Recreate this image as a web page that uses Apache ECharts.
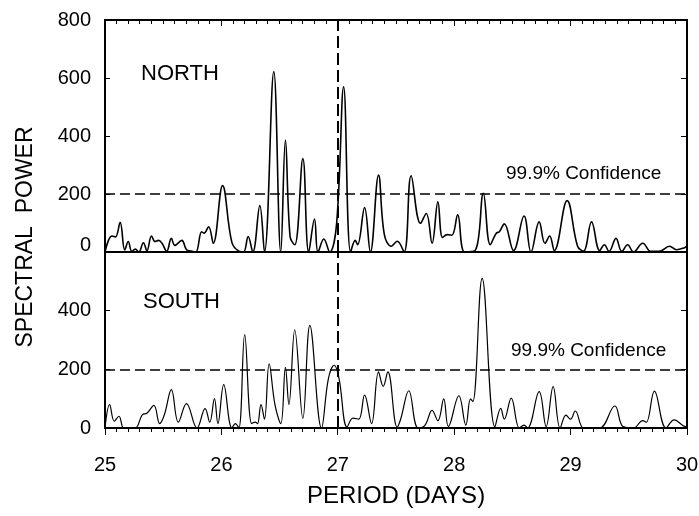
<!DOCTYPE html>
<html><head><meta charset="utf-8">
<script src="https://cdn.jsdelivr.net/npm/echarts@6/dist/echarts.min.js"></script>
<style>html,body{margin:0;padding:0;background:#fff}#c{width:699px;height:516px}</style>
</head><body><div id="c"></div>
<script>
// ---- data ----
const northPeriod = [25.00,25.06,25.09,25.13,25.17,25.20,25.23,25.26,25.29,25.33,25.36,25.40,25.43,25.46,25.49,25.53,25.57,25.60,25.66,25.70,25.74,25.78,25.83,25.85,25.89,25.93,26.01,26.09,26.15,26.19,26.23,26.27,26.33,26.37,26.45,26.51,26.55,26.59,26.63,26.70,26.75,26.80,26.83,26.88,26.93,26.99,27.05,27.11,27.15,27.17,27.23,27.28,27.35,27.40,27.46,27.51,27.57,27.63,27.71,27.76,27.81,27.86,27.90,27.94,27.98,28.03,28.09,28.18,28.25,28.31,28.36,28.39,28.43,28.51,28.60,28.66,28.73,28.78,28.82,28.86,28.97,29.06,29.11,29.18,29.25,29.29,29.33,29.39,29.44,29.49,29.54,29.62,29.69,29.76,29.85,29.91,29.98,30.00];
const northPower  = [0,55,52,102,7,36,2,10,0,32,5,55,36,40,30,2,47,23,40,8,3,0,70,65,87,30,229,33,3,0,53,0,160,0,622,0,386,53,25,322,0,114,0,45,0,99,570,0,40,25,153,0,265,60,20,37,0,263,99,133,30,173,50,60,58,128,0,5,202,25,64,71,97,5,124,0,104,30,55,5,177,20,3,104,5,25,2,47,2,25,0,30,2,2,20,8,15,20];
const southPeriod = [25.00,25.04,25.08,25.12,25.16,25.20,25.26,25.32,25.36,25.42,25.47,25.51,25.57,25.63,25.70,25.79,25.86,25.90,25.94,25.97,26.02,26.09,26.12,26.15,26.20,26.26,26.29,26.31,26.34,26.37,26.41,26.46,26.51,26.55,26.58,26.63,26.70,26.76,26.86,26.92,26.97,27.01,27.08,27.13,27.18,27.23,27.29,27.35,27.39,27.43,27.51,27.54,27.61,27.69,27.75,27.81,27.86,27.91,27.95,28.04,28.10,28.14,28.16,28.24,28.35,28.40,28.43,28.49,28.56,28.60,28.63,28.73,28.79,28.85,28.91,28.96,29.00,29.04,29.11,29.16,29.25,29.38,29.45,29.54,29.62,29.65,29.72,29.82,29.89,29.99,30.00];
const southPower  = [0,80,23,40,0,0,0,45,50,77,15,45,131,20,83,0,66,20,100,15,148,0,15,0,318,15,20,15,80,30,219,80,15,207,80,335,33,350,0,170,214,170,3,34,30,112,15,191,142,191,3,30,127,0,10,60,25,99,5,110,10,99,90,510,4,67,30,102,0,10,0,124,5,141,0,44,30,58,0,0,0,75,5,0,25,20,126,0,28,5,5];
const topTicks = [0,200,400,600,800];
const bottomTicks = [0,200,400,600];
const xTicks = [25,26,27,28,29,30];
const minorPerMajor = 10;
const confidenceLevel = 200;
const markerPeriod = 27;
const panelNames = ['NORTH','SOUTH'];
const confidenceText = '99.9% Confidence';
const xTitle = 'PERIOD (DAYS)';
const yTitle = 'SPECTRAL  POWER';

// ---- chart ----
const FF = '"Liberation Sans", Arial, sans-serif';
const chart = echarts.init(document.getElementById('c'));
const pairs = (xs, ys) => xs.map((x,i)=>[x, ys[i]]);
const black = '#000';
const xMin = xTicks[0], xMax = xTicks[xTicks.length-1];
const axLine = () => ({show:true, onZero:false, lineStyle:{color:black, width:2}});
const baseX = () => ({type:'value', min:xMin, max:xMax, interval:1, splitLine:{show:false}, axisTick:{show:false}, minorTick:{show:false}});
const yRange = (ticks) => ({min:ticks[0], max:ticks[ticks.length-1], interval:ticks[1]-ticks[0]});
const markLines = () => ({
  silent:true, symbol:'none', label:{show:false},
  data:[
    {yAxis:confidenceLevel, lineStyle:{color:black, width:1.5, type:[10,5]}},
    {xAxis:markerPeriod, lineStyle:{color:black, width:2, type:[12,5]}}
  ]
});

// tick values: majors from xTicks, minors subdividing each interval
const periodTicks = [];
for (let i = 0; i < xTicks.length; i++) {
  periodTicks.push([xTicks[i], 1]);
  if (i < xTicks.length - 1) {
    const step = (xTicks[i+1] - xTicks[i]) / minorPerMajor;
    for (let k = 1; k < minorPerMajor; k++) periodTicks.push([+(xTicks[i] + k*step).toFixed(3), 0]);
  }
}
const crisp = v => Math.round(v - 0.5) + 0.5;
const tickStyle = {stroke:black, lineWidth:1, fill:null};

// ticks drawn through the axes' own scales (custom series + api.coord)
const topEdgeTicks = {
  type:'custom', xAxisIndex:0, yAxisIndex:0, clip:false, silent:true, z:20, animation:false,
  data: periodTicks.map(t => [t[0], topTicks[topTicks.length-1], t[1]]),
  encode:{x:0, y:1},
  renderItem:(params, api) => {
    const p = api.coord([api.value(0), api.value(1)]);
    const x = crisp(p[0]);
    return {type:'line', shape:{x1:x, y1:p[1], x2:x, y2:p[1] + (api.value(2) ? 6 : 4)}, style:tickStyle};
  }
};
const bottomEdgeTicks = {
  type:'custom', xAxisIndex:2, yAxisIndex:2, clip:false, silent:true, z:20, animation:false,
  data: periodTicks.map(t => [t[0], bottomTicks[0], t[1]]),
  encode:{x:0, y:1},
  renderItem:(params, api) => {
    const p = api.coord([api.value(0), api.value(1)]);
    const x = crisp(p[0]);
    return {type:'line', shape:{x1:x, y1:p[1], x2:x, y2:p[1] + (api.value(2) ? 7 : 4)}, style:tickStyle};
  }
};
const sideTicks = (xi, yi, ticks) => ({
  type:'custom', xAxisIndex:xi, yAxisIndex:yi, clip:false, silent:true, z:20, animation:false,
  data: ticks.slice(1, -1).map(v => [xMin, v]),
  encode:{x:0, y:1},
  renderItem:(params, api) => {
    const pl = api.coord([xMin, api.value(1)]);
    const pr = api.coord([xMax, api.value(1)]);
    const y = crisp(pl[1]);
    return {type:'group', children:[
      {type:'line', shape:{x1:pl[0], y1:y, x2:pl[0] + 5, y2:y}, style:tickStyle},
      {type:'line', shape:{x1:pr[0], y1:y, x2:pr[0] - 6, y2:y}, style:tickStyle}
    ]};
  }
});

const option = {
  animation:false,
  grid:[
    {left:105, top:20, width:582, height:232, show:true, borderColor:black, borderWidth:2, outerBoundsMode:'none', containLabel:false},
    {left:105, top:252, width:582, height:176, show:true, borderColor:black, borderWidth:2, outerBoundsMode:'none', containLabel:false}
  ],
  xAxis:[
    Object.assign(baseX(), {gridIndex:0, position:'bottom', axisLine:{show:false, onZero:false}, axisLabel:{show:false}}),
    Object.assign(baseX(), {gridIndex:0, position:'top', axisLine:axLine(), axisLabel:{show:false}}),
    Object.assign(baseX(), {gridIndex:1, position:'bottom', axisLine:axLine(),
      axisLabel:{show:true, margin:27, fontSize:20, fontFamily:FF, color:black},
      name:xTitle, nameLocation:'middle', nameGap:56, nameTextStyle:{fontSize:24, fontFamily:FF, color:black}})
  ],
  yAxis:[
    Object.assign({gridIndex:0, type:'value', position:'left', splitLine:{show:false}, axisLine:axLine(), axisTick:{show:false},
      axisLabel:{show:true, margin:14, fontSize:20, fontFamily:FF, color:black,
        formatter:v => v===0 ? '{up|0}' : String(v),
        rich:{up:{fontSize:20, fontFamily:FF, color:black, padding:[0,0,14,0]}}}}, yRange(topTicks)),
    Object.assign({gridIndex:0, type:'value', position:'right', splitLine:{show:false}, axisLine:axLine(), axisTick:{show:false}, axisLabel:{show:false}}, yRange(topTicks)),
    Object.assign({gridIndex:1, type:'value', position:'left', splitLine:{show:false}, axisLine:axLine(), axisTick:{show:false},
      axisLabel:{show:true, showMaxLabel:false, margin:14, fontSize:20, fontFamily:FF, color:black}}, yRange(bottomTicks)),
    Object.assign({gridIndex:1, type:'value', position:'right', splitLine:{show:false}, axisLine:axLine(), axisTick:{show:false}, axisLabel:{show:false}}, yRange(bottomTicks))
  ],
  series:[
    {type:'line', xAxisIndex:0, yAxisIndex:0, data:pairs(northPeriod, northPower), showSymbol:false, smooth:0.4,
      lineStyle:{color:black, width:1.6}, markLine:markLines()},
    {type:'line', xAxisIndex:2, yAxisIndex:2, data:pairs(southPeriod, southPower), showSymbol:false, smooth:0.4,
      lineStyle:{color:black, width:1.2}, markLine:markLines()},
    topEdgeTicks,
    bottomEdgeTicks,
    sideTicks(0, 0, topTicks),
    sideTicks(2, 2, bottomTicks)
  ],
  graphic:[
    {type:'text', left:141, top:63, style:{text:panelNames[0], font:'22px '+FF, fill:black}},
    {type:'text', left:143, top:291, style:{text:panelNames[1], font:'22px '+FF, fill:black}},
    {type:'text', left:506, top:164, style:{text:confidenceText, font:'19px '+FF, fill:black}},
    {type:'text', left:511, top:341, style:{text:confidenceText, font:'19px '+FF, fill:black}},
    {type:'text', x:26, y:237, rotation:Math.PI/2, style:{text:yTitle, font:'23px '+FF, fill:black, align:'center', verticalAlign:'middle'}}
  ]
};
chart.setOption(option);
</script>
</body></html>
